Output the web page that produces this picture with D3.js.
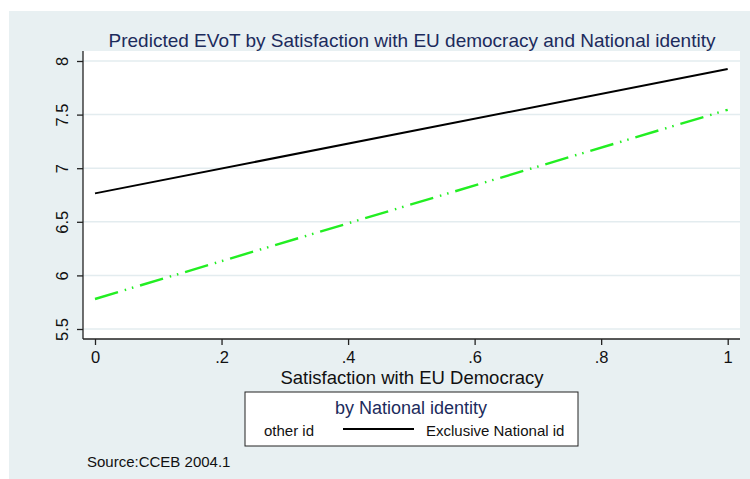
<!DOCTYPE html>
<html>
<head>
<meta charset="utf-8">
<script src="https://cdn.jsdelivr.net/npm/d3@7"></script>
<style>
  html, body { margin: 0; padding: 0; background: #ffffff; }
  svg { display: block; font-family: "Liberation Sans", Arial, sans-serif; }
</style>
</head>
<body>
<svg id="chart" width="750" height="479"></svg>
<script>
// Predicted EVoT at the ends of the satisfaction range, one series per identity group
const satisfaction = [0, 1];
const exclusiveNational = [6.765, 7.925];
const otherId = [5.78, 7.545];
const yTicks = [5.5, 6, 6.5, 7, 7.5, 8];
const xTicks = [0, 0.2, 0.4, 0.6, 0.8, 1];
const xTickLabels = ["0", ".2", ".4", ".6", ".8", "1"];
const titleText = "Predicted EVoT by Satisfaction with EU democracy and National identity";
const xTitleText = "Satisfaction with EU Democracy";
const legendTitle = "by National identity";
const legendLabels = ["other id", "Exclusive National id"];
const sourceText = "Source:CCEB 2004.1";

const svg = d3.select("#chart");
const navy = "#1c2b5c";

// outer graph region
svg.append("rect").attr("x", 9).attr("y", 11).attr("width", 741).attr("height", 468)
  .attr("fill", "#e8f0f2");

// plot region
const plot = { left: 83, right: 740, top: 51, bottom: 339 };
svg.append("rect").attr("x", plot.left).attr("y", plot.top)
  .attr("width", plot.right - plot.left).attr("height", plot.bottom - plot.top)
  .attr("fill", "#ffffff");

const x = d3.scaleLinear().domain([0, 1]).range([95, 727.7]);
const y = d3.scaleLinear().domain([5.5, 8]).range([329, 61]);

// horizontal grid
svg.append("g").selectAll("line").data(yTicks).join("line")
  .attr("x1", plot.left).attr("x2", plot.right)
  .attr("y1", d => y(d)).attr("y2", d => y(d))
  .attr("stroke", "#e3ecef").attr("stroke-width", 1.5);

// y axis, labels turned to read upwards
const yAxis = svg.append("g").attr("transform", `translate(${plot.left},0)`)
  .call(d3.axisLeft(y).tickValues(yTicks).tickFormat(d3.format("")).tickSize(6).tickSizeOuter(0));
yAxis.select(".domain").attr("d", `M0,${plot.top}V${plot.bottom}`).attr("stroke", "#222").attr("stroke-width", 1.3);
yAxis.selectAll(".tick line").attr("stroke", "#222").attr("stroke-width", 1.3);
yAxis.selectAll(".tick text")
  .attr("font-size", 16.5).attr("fill", "#111")
  .attr("text-anchor", "middle")
  .attr("x", 0).attr("y", 0).attr("dy", 0)
  .attr("transform", "translate(-15,0) rotate(-90)");

// x axis
const xAxis = svg.append("g").attr("transform", `translate(0,${plot.bottom})`)
  .call(d3.axisBottom(x).tickValues(xTicks).tickFormat((d, i) => xTickLabels[i]).tickSize(6).tickSizeOuter(0));
xAxis.select(".domain").attr("d", `M${plot.left},0H${plot.right}`).attr("stroke", "#222").attr("stroke-width", 1.3);
xAxis.selectAll(".tick line").attr("stroke", "#222").attr("stroke-width", 1.3);
xAxis.selectAll(".tick text").attr("font-size", 16.5).attr("fill", "#111").attr("y", 24).attr("dy", 0);
xAxis.selectAll("text").attr("font-family", null);
yAxis.selectAll("text").attr("font-family", null);

// series lines
const line = d3.line().x(d => x(d[0])).y(d => y(d[1]));
svg.append("path").datum(satisfaction.map((s, i) => [s, otherId[i]]))
  .attr("d", line).attr("fill", "none").attr("stroke", "#22ee22")
  .attr("stroke-width", 2.4).attr("stroke-dasharray", "24,7,1.5,6,1.5,7");
svg.append("path").datum(satisfaction.map((s, i) => [s, exclusiveNational[i]]))
  .attr("d", line).attr("fill", "none").attr("stroke", "#000")
  .attr("stroke-width", 2);

// titles
svg.append("text").attr("x", 412).attr("y", 47).attr("text-anchor", "middle")
  .attr("font-size", 19).attr("fill", navy).text(titleText);
svg.append("text").attr("x", 412).attr("y", 384).attr("text-anchor", "middle")
  .attr("font-size", 18.5).attr("fill", "#111").text(xTitleText);

// legend
const lg = svg.append("g");
lg.append("rect").attr("x", 245).attr("y", 392).attr("width", 333).attr("height", 54)
  .attr("fill", "#fff").attr("stroke", "#222").attr("stroke-width", 1);
lg.append("text").attr("x", 411).attr("y", 414).attr("text-anchor", "middle")
  .attr("font-size", 18).attr("fill", navy).text(legendTitle);
lg.append("text").attr("x", 264).attr("y", 436).attr("font-size", 15).attr("fill", "#111").text(legendLabels[0]);
lg.append("line").attr("x1", 343).attr("x2", 414).attr("y1", 429).attr("y2", 429)
  .attr("stroke", "#000").attr("stroke-width", 2);
lg.append("text").attr("x", 426).attr("y", 436).attr("font-size", 15).attr("fill", "#111").text(legendLabels[1]);

// note
svg.append("text").attr("x", 87).attr("y", 467).attr("font-size", 15).attr("fill", "#111").text(sourceText);
</script>
</body>
</html>
